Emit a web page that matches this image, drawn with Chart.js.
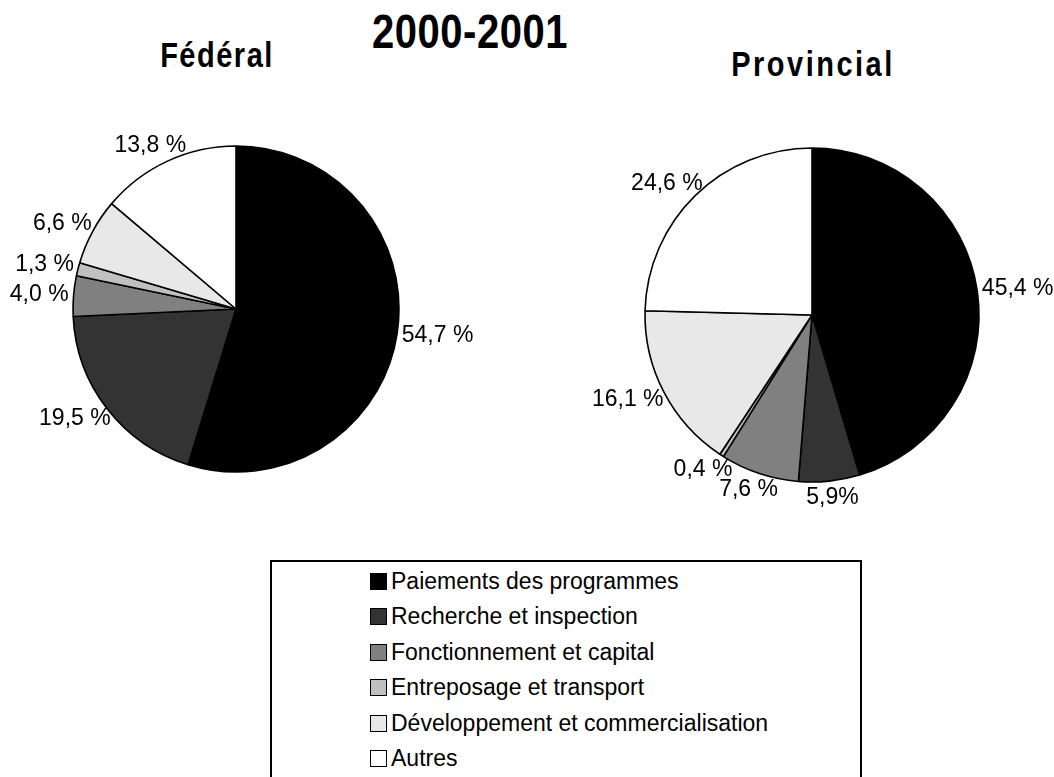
<!DOCTYPE html>
<html>
<head>
<meta charset="utf-8">
<script src="https://cdn.jsdelivr.net/npm/chart.js@4/dist/chart.umd.min.js"></script>
<style>
  body { margin: 0; width: 1054px; height: 777px; background: #fff; overflow: hidden; position: relative;
         font-family: "Liberation Sans", Arial, sans-serif; color: #000; }
  .ttl { position: absolute; font-weight: bold; white-space: nowrap; transform-origin: center top; }
  .box { position: absolute; }
  #legend { position: absolute; left: 270px; top: 560px; width: 588px; height: 240px; border: 2px solid #000; }
  #legend .row { position: absolute; left: 98px; height: 26px; display: flex; align-items: center; font-size: 23px; white-space: nowrap; }
  #legend .sw { width: 15px; height: 15px; border: 1.5px solid #000; margin-right: 4px; box-sizing: content-box; }
</style>
</head>
<body>
<div class="ttl" style="left:370px; top:4px; width:200px; text-align:center; font-size:40px; letter-spacing:0.5px; transform:scaleY(1.22);">2000-2001</div>
<div class="ttl" style="left:117px; top:36px; width:200px; text-align:center; font-size:29px; letter-spacing:1.5px; transform:scaleY(1.2);">Fédéral</div>
<div class="ttl" style="left:713px; top:45px; width:200px; text-align:center; font-size:29px; letter-spacing:2.5px; transform:scaleY(1.2);">Provincial</div>

<div class="box" style="left:0; top:100px; width:560px; height:418px;"><canvas id="chart-federal"></canvas></div>
<div class="box" style="left:570px; top:105px; width:484px; height:420px;"><canvas id="chart-provincial"></canvas></div>

<div id="legend"></div>

<script>
const categories = [
    'Paiements des programmes',
    'Recherche et inspection',
    'Fonctionnement et capital',
    'Entreposage et transport',
    'Développement et commercialisation',
    'Autres',
];
const colors = ['#000000', '#333333', '#808080', '#c0c0c0', '#e8e8e8', '#ffffff'];

const federalValues = [54.7, 19.5, 4.0, 1.3, 6.6, 13.8];
const federalLabels = ['54,7 %', '19,5 %', '4,0 %', '1,3 %', '6,6 %', '13,8 %'];

const provincialValues = [45.4, 5.9, 7.6, 0.4, 16.1, 24.6];
const provincialLabels = ['45,4 %', '5,9%', '7,6 %', '0,4 %', '16,1 %', '24,6 %'];

// draws each percentage outside its slice, pushed away along the mid angle
const outsideLabels = {
    id: 'outsideLabels',
    afterDatasetsDraw(chart, args, opts) {
        const ctx = chart.ctx;
        const meta = chart.getDatasetMeta(0);
        ctx.save();
        ctx.font = '23px "Liberation Sans", Arial, sans-serif';
        ctx.fillStyle = '#000';
        ctx.textAlign = 'center';
        ctx.textBaseline = 'middle';
        meta.data.forEach((arc, i) => {
            const p = arc.getProps(['x', 'y', 'startAngle', 'endAngle', 'outerRadius'], true);
            const mid = (p.startAngle + p.endAngle) / 2;
            const dx = Math.cos(mid), dy = Math.sin(mid);
            const r = p.outerRadius + 5;
            const text = opts.labels[i];
            const w = ctx.measureText(text).width;
            const h = 23;
            const cx = p.x + dx * r + dx * w / 2;
            const cy = p.y + dy * r + dy * h / 2;
            ctx.fillText(text, cx, cy);
        });
        ctx.restore();
    },
};

function renderPie(id, values, labels, radius, padRight) {
    return new Chart(document.getElementById(id), {
        type: 'pie',
        data: {
            labels: categories,
            datasets: [{
                data: values,
                backgroundColor: colors,
                borderColor: '#000',
                borderWidth: 1.6,
            }],
        },
        options: {
            responsive: true,
            maintainAspectRatio: false,
            animation: false,
            radius: radius,
            layout: { padding: { right: padRight } },
            plugins: {
                legend: { display: false },
                tooltip: { enabled: false },
                outsideLabels: { labels: labels },
            },
        },
        plugins: [outsideLabels],
    });
}

renderPie('chart-federal', federalValues, federalLabels, 163, 88);
renderPie('chart-provincial', provincialValues, provincialLabels, 167, 0);

// legend box
const legend = document.getElementById('legend');
categories.forEach((name, i) => {
    const row = document.createElement('div');
    row.className = 'row';
    row.style.top = (6 + i * 35.5) + 'px';
    const sw = document.createElement('span');
    sw.className = 'sw';
    sw.style.background = colors[i];
    const tx = document.createElement('span');
    tx.textContent = name;
    row.appendChild(sw);
    row.appendChild(tx);
    legend.appendChild(row);
});
</script>
</body>
</html>
